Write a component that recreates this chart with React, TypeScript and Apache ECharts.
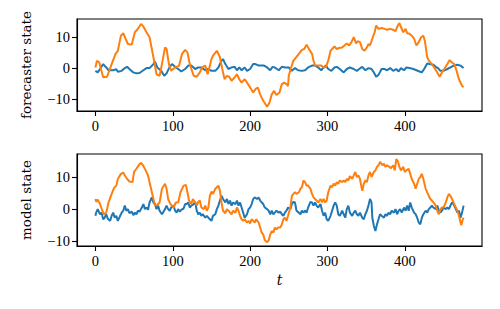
import React, { useEffect, useRef } from "react";
import * as echarts from "echarts";

const xTicks = [0, 100, 200, 300, 400];
const yTicks = [-10, 0, 10];

const forecasterBlue: [number, number][] = [
  [0,-0.9],[3,-1.4],[6,-0.3],[10,1.3],[14,0.2],[17,-0.7],[23,-0.7],[27,-0.4],[29,-1.2],[34,-0.9],[38,0],[41,0.4],[44,-0.3],[49,-1.4],[53,-1.7],[57,-1.6],[62,-0.7],[66,0],[70,0],[75,1.3],[77,2.1],[80,0.2],[85,-0.9],[89,-2.5],[92,-1.7],[96,0.4],[99,1.3],[103,0.4],[107,-0.3],[111,-1.1],[116,-0.3],[120,0.8],[124,0.8],[129,-0.3],[133,0.2],[137,0.2],[142,-0.7],[146,-0.3],[150,-0.9],[155,-0.9],[159,0.2],[163,2.4],[165,2.9],[168,1.3],[172,-0.3],[176,0.2],[180,0.4],[183,-0.7],[186,0.2],[189,-0.7],[193,0.2],[196,-0.9],[200,-0.3],[204,1.3],[207,1.3],[211,0.8],[214,0.8],[218,0.8],[222,0.2],[226,-0.7],[229,0.4],[232,0.2],[237,-0.7],[241,0.4],[245,0.2],[250,0.2],[254,-0.9],[258,0],[262,-0.7],[267,-0.9],[271,-0.7],[275,0.2],[280,0.8],[284,0.8],[288,0.2],[292,-0.7],[295,0.2],[298,0.8],[301,-0.3],[305,-0.9],[309,0.2],[312,0.4],[316,-0.3],[321,-1.4],[325,-0.3],[329,0.2],[334,-0.3],[338,-0.9],[341,-0.3],[345,0.4],[349,-0.7],[353,0],[357,-0.3],[360,-1.4],[363,-2.8],[366,-2.2],[370,-0.3],[374,-0.3],[377,-0.7],[381,0],[385,-0.9],[389,-0.3],[392,-1.1],[395,0],[399,-0.7],[402,0.2],[406,0],[411,-0.3],[415,-0.7],[419,-1.1],[422,-1.4],[425,-0.3],[429,1.5],[432,1.3],[437,1.1],[440,0.4],[443,0],[446,-0.9],[450,-0.9],[455,-0.3],[459,0.2],[463,0.8],[468,1.1],[472,0.8],[476,0]
];

const forecasterOrange: [number, number][] = [
  [0,0.2],[2,2.4],[5,1.8],[10,-3],[15,-2.8],[21,1.3],[26,4.6],[29,5.6],[33,10.5],[36,11.3],[39,9.5],[42,7.8],[47,7.6],[51,11.6],[54,12.4],[59,14.3],[62,13.5],[66,11.6],[70,10],[75,3.5],[79,-2],[83,-2.5],[86,1.3],[90,6.7],[92,6.2],[95,1.3],[98,-0.9],[103,0.2],[108,0.7],[112,4.6],[116,5.9],[119,5.1],[122,1.3],[127,-2.5],[131,-2.8],[135,-1.4],[138,0.2],[142,0.8],[145,-2],[148,0.8],[150,2.9],[152,4],[157,5.6],[161,3.5],[164,-0.3],[167,-3.6],[170,-2.5],[173,-2.8],[176,-4.1],[180,-3],[183,-2],[186,-3.6],[189,-4.7],[193,-3.6],[196,-4.7],[200,-6.3],[204,-7.9],[207,-6.8],[210,-6.3],[213,-8.5],[217,-10.6],[222,-12.5],[225,-11.2],[228,-8.5],[231,-7.4],[234,-8.7],[238,-7.9],[241,-5.2],[244,-4.7],[247,-5.2],[249,-5.8],[250,-2.5],[253,0.2],[256,2.4],[259,3.3],[263,4.6],[267,5.9],[270,6.2],[273,7.6],[276,6.2],[280,4.6],[282,2.4],[284,0.8],[288,0.8],[292,0.8],[295,0.2],[298,0.4],[301,2.4],[304,5.6],[306,6.2],[309,7],[312,6.2],[315,6.5],[319,6.7],[322,7.3],[325,8],[328,7.3],[331,8.4],[334,10],[337,8],[339,8.7],[342,8.4],[345,6.2],[348,5.6],[351,6.7],[353,7.8],[355,7.3],[358,9.5],[361,11.6],[363,13.8],[366,12.7],[370,13],[374,12.7],[377,12.4],[381,12.7],[385,12.4],[388,12],[391,13.8],[393,14.6],[395,13.3],[398,11.6],[401,12.7],[403,11.3],[406,11.1],[409,10.5],[412,9.5],[415,7.3],[418,8.4],[421,10],[424,10.5],[426,8.7],[429,3.5],[431,2.4],[435,1.3],[438,0.2],[442,-1.4],[445,-2.8],[448,-1.4],[451,-0.3],[455,1.3],[458,2.6],[461,1.8],[464,1.3],[467,-0.9],[470,-3.6],[473,-5.2],[475,-6.1],[476,-5.8]
];

const modelBlue: [number, number][] = [
  [0,-2.1],[1,-1.1],[3,0],[6,-1.6],[8,-1.1],[10,-3.2],[12,-2.7],[14,-1.6],[16,-3],[19,-3.7],[21,-2.1],[23,-1.1],[25,-2.7],[27,-2.1],[29,-3.7],[32,-2.1],[34,-1.1],[36,-0.5],[38,1.1],[40,-0.5],[42,0],[44,-1.3],[47,-0.8],[49,-1.9],[51,-1.1],[53,-1.6],[55,-0.5],[57,-0.8],[60,0.5],[62,1.6],[64,0],[66,0.5],[68,-0.2],[70,2.1],[73,3.7],[75,2.1],[77,1.6],[79,0],[81,1.1],[83,-0.5],[86,-1.6],[88,-0.8],[90,0],[92,1.1],[94,0],[96,-0.5],[98,0.5],[101,1.1],[103,-0.5],[105,-1.1],[107,0],[109,-0.8],[111,-0.2],[114,0.2],[116,1.6],[118,1.6],[120,2.1],[122,0.5],[124,1.1],[127,1.6],[129,2.3],[131,-0.5],[133,-1.6],[135,-1.1],[137,-2.1],[139,-1.6],[142,-2.7],[144,-2.1],[146,-2.7],[148,-3.2],[150,-3.7],[152,-2.1],[155,-1.6],[157,0],[159,1.1],[161,2.7],[163,4.2],[165,3.2],[168,2.1],[170,3.2],[172,1.6],[174,2.7],[176,1.1],[178,2.1],[181,1.6],[183,2.7],[185,1.1],[187,2.1],[189,0.5],[191,-1.1],[193,-2.7],[196,-1.6],[198,0],[200,0.5],[202,1.6],[204,3.2],[206,3.7],[209,3.2],[211,3.7],[213,2.7],[215,2.1],[217,1.6],[219,0.5],[222,0],[224,-0.5],[226,-1.6],[228,-0.5],[230,-1.6],[232,-1.1],[234,-0.5],[237,-1.1],[239,-0.8],[241,-1.6],[243,-2.1],[245,-1.1],[247,-0.5],[249,0.5],[252,0],[254,1.6],[256,2.3],[258,2.1],[260,-0.5],[263,-1.1],[265,-1.6],[267,-0.5],[269,-1.1],[271,-0.5],[273,-1.1],[275,0.5],[278,2.3],[280,2.1],[282,1.1],[284,2.1],[286,1.1],[288,0.5],[291,1.6],[293,-0.5],[295,-2.1],[297,-1.1],[299,-3.2],[301,-3.7],[304,-2.1],[306,-0.5],[308,1.1],[310,2.1],[312,1.1],[314,-1.6],[316,-2.1],[319,-0.5],[321,-1.6],[323,-2.7],[325,0],[327,1.1],[329,-1.1],[332,-2.1],[334,-1.1],[336,-0.5],[338,-1.6],[340,-2.1],[342,-1.1],[345,-2.7],[347,-3.2],[349,-1.6],[351,-0.5],[353,1.1],[355,3.2],[357,2.1],[358,-2.7],[360,-5.3],[362,-6.9],[364,-4.8],[366,-3.2],[368,-1.6],[370,-2.1],[373,-2.7],[375,-1.6],[377,-2.1],[379,-1.1],[381,-1.6],[383,-0.5],[386,-1.1],[388,0],[390,-1.6],[392,-0.5],[394,0],[396,-1.1],[399,0.5],[401,-0.5],[403,1.1],[405,-0.5],[407,2.1],[409,0.5],[412,-1.1],[414,-1.6],[416,-2.7],[418,-4.2],[420,-4.8],[422,-2.7],[424,-1.6],[427,-0.5],[429,-1.1],[431,0],[433,0.5],[435,1.1],[437,0.5],[440,0],[442,1.1],[444,-0.5],[446,-1.1],[448,-0.5],[450,0.5],[453,0],[455,0.5],[457,0],[459,1.1],[461,2.1],[463,1.6],[466,0],[468,-1.1],[470,-0.5],[472,-2.7],[474,-1.1],[476,1.1]
];

const modelOrange: [number, number][] = [
  [0,3.2],[1,2.3],[3,3],[6,1.6],[9,-0.5],[11,-1.6],[14,-1.1],[17,2.1],[21,4.8],[24,6.6],[27,7.4],[29,9.5],[33,11.1],[36,11.5],[38,10.6],[41,9.5],[44,8.7],[48,8.5],[50,11.7],[53,12.7],[56,13.8],[59,14.6],[62,13.6],[65,12.2],[68,10.6],[70,8.5],[73,5.3],[75,3.2],[77,1.1],[80,1.3],[83,2.1],[86,6.4],[90,8],[92,6.4],[94,3.2],[97,1.6],[101,0.5],[104,2.1],[107,2.1],[110,5.3],[114,7.4],[117,7.6],[119,5.3],[121,2.7],[124,1.6],[126,3.2],[129,2.1],[131,1.1],[133,2.3],[135,2.7],[137,0.5],[140,0],[142,1.1],[144,-0.5],[146,0.5],[148,4.2],[150,5.5],[152,4.8],[155,6.4],[157,6.9],[159,7.4],[161,5.8],[163,2.1],[165,-0.5],[168,-1.3],[170,0],[172,-0.5],[174,-1.1],[176,-1.6],[178,-0.5],[181,-1.1],[183,0.5],[185,-0.5],[187,-2.1],[189,-3.2],[191,-3.7],[193,-3.2],[196,-4.2],[198,-3.7],[200,-4.5],[202,-3.2],[204,-3.7],[206,-4.2],[208,-3.2],[211,-4.2],[213,-5.8],[215,-7.4],[217,-8],[219,-9.8],[222,-10.4],[224,-9.8],[226,-8],[228,-6.9],[230,-7.4],[232,-5.8],[234,-6.4],[236,-5.8],[239,-5.8],[241,-4.8],[243,-3.2],[245,-2.7],[247,-3.7],[249,-2.1],[252,0.5],[254,4.2],[256,4.8],[258,5.3],[260,4.8],[263,5.3],[265,6.4],[267,6.9],[269,9],[271,8.5],[273,7.4],[275,7.4],[278,6.4],[280,4.8],[282,3.7],[284,3.2],[286,2.7],[288,2.1],[291,3.2],[293,2.1],[295,3.2],[297,2.1],[299,2.7],[301,5.3],[304,7.4],[306,6.9],[308,8],[310,7.4],[312,8.5],[314,8],[316,9],[319,8.5],[321,9],[323,8.5],[325,9.5],[327,9],[329,10.4],[332,9.5],[334,10.6],[336,11.7],[338,10.1],[340,10.6],[342,9.5],[345,5.8],[347,8],[349,9],[351,8.5],[353,10.6],[355,11.7],[357,10.1],[360,11.7],[362,12.2],[364,13.3],[366,13.8],[368,14.9],[371,13.8],[373,14.3],[375,13.3],[377,13.8],[380,13.3],[382,12.9],[385,13.8],[387,12.2],[389,15.7],[391,15.1],[393,13.3],[395,12.2],[398,13.3],[400,11.7],[402,12.2],[405,12.7],[407,11.1],[409,9.5],[412,8],[414,6.4],[416,8],[418,9.5],[420,10.1],[422,11.1],[424,9.5],[427,6.4],[429,5.3],[431,4.2],[433,3.2],[435,2.7],[437,2.1],[440,1.1],[442,-0.5],[444,-1.6],[446,0],[448,0.5],[450,0.5],[453,2.1],[455,3.7],[457,4.8],[459,4.2],[461,3.2],[463,2.1],[466,0.5],[468,-0.5],[470,-2.1],[472,-4.2],[473,-5.1],[475,-3.2],[476,-2.7]
];

const BLUE = "#1f77b4";
const ORANGE = "#ff7f0e";
const TICK_FONT = "'Liberation Serif', 'Times New Roman', serif";
const NAME_FONT = "'DejaVu Serif', serif";

function fmt(v: number) {
  return v < 0 ? "\u2212" + Math.abs(v) : String(v);
}

function xAxisCfg(gridIndex: number, name: string) {
  return {
    type: "value" as const,
    gridIndex,
    min: -23.8,
    max: 499.8,
    name,
    nameLocation: "middle" as const,
    nameGap: 27,
    nameTextStyle: { fontFamily: NAME_FONT, fontStyle: "italic", fontSize: 14, color: "#000" },
    axisLine: { show: true, onZero: false, lineStyle: { color: "#000", width: 1.1 } },
    axisTick: { show: true, customValues: xTicks, length: 5, lineStyle: { color: "#000", width: 1.1 } },
    axisLabel: { show: true, customValues: xTicks, margin: 7, fontFamily: TICK_FONT, fontSize: 14.5, color: "#000", formatter: fmt },
    splitLine: { show: false },
  };
}

function yAxisCfg(gridIndex: number, min: number, max: number, name: string) {
  return {
    type: "value" as const,
    gridIndex,
    min,
    max,
    name,
    nameLocation: "middle" as const,
    nameGap: 44,
    nameTextStyle: { fontFamily: NAME_FONT, fontSize: 13.5, color: "#000" },
    axisLine: { show: true, onZero: false, lineStyle: { color: "#000", width: 1.1 } },
    axisTick: { show: true, customValues: yTicks, length: 5, lineStyle: { color: "#000", width: 1.1 } },
    axisLabel: { show: true, customValues: yTicks, margin: 7, fontFamily: TICK_FONT, fontSize: 14.5, color: "#000", formatter: fmt },
    splitLine: { show: false },
  };
}

function lineSeries(data: [number, number][], color: string, idx: number) {
  return {
    type: "line" as const,
    xAxisIndex: idx,
    yAxisIndex: idx,
    data,
    showSymbol: false,
    symbol: "none",
    smooth: false,
    lineStyle: { color, width: 2 },
    itemStyle: { color },
    z: 2,
  };
}

export default function App() {
  const ref = useRef<HTMLDivElement>(null);
  useEffect(() => {
    if (!ref.current) return;
    const chart = echarts.init(ref.current, undefined, { renderer: "svg" });
    chart.setOption({
      animation: false,
      backgroundColor: "#fff",
      grid: [
        { left: 77, right: 18, top: 19, height: 92, show: true, borderColor: "#000", borderWidth: 1.1, backgroundColor: "transparent" },
        { left: 77, right: 18, top: 154, height: 92, show: true, borderColor: "#000", borderWidth: 1.1, backgroundColor: "transparent" },
      ],
      xAxis: [xAxisCfg(0, ""), xAxisCfg(1, "t")],
      yAxis: [yAxisCfg(0, -13.9, 15.9, "forecaster state"), yAxisCfg(1, -11.6, 17.35, "model state")],
      series: [
        lineSeries(forecasterBlue, BLUE, 0),
        lineSeries(forecasterOrange, ORANGE, 0),
        lineSeries(modelBlue, BLUE, 1),
        lineSeries(modelOrange, ORANGE, 1),
      ],
    });
    return () => chart.dispose();
  }, []);
  return <div ref={ref} style={{ width: 500, height: 309, position: "absolute", left: 0, top: 0 }} />;
}
